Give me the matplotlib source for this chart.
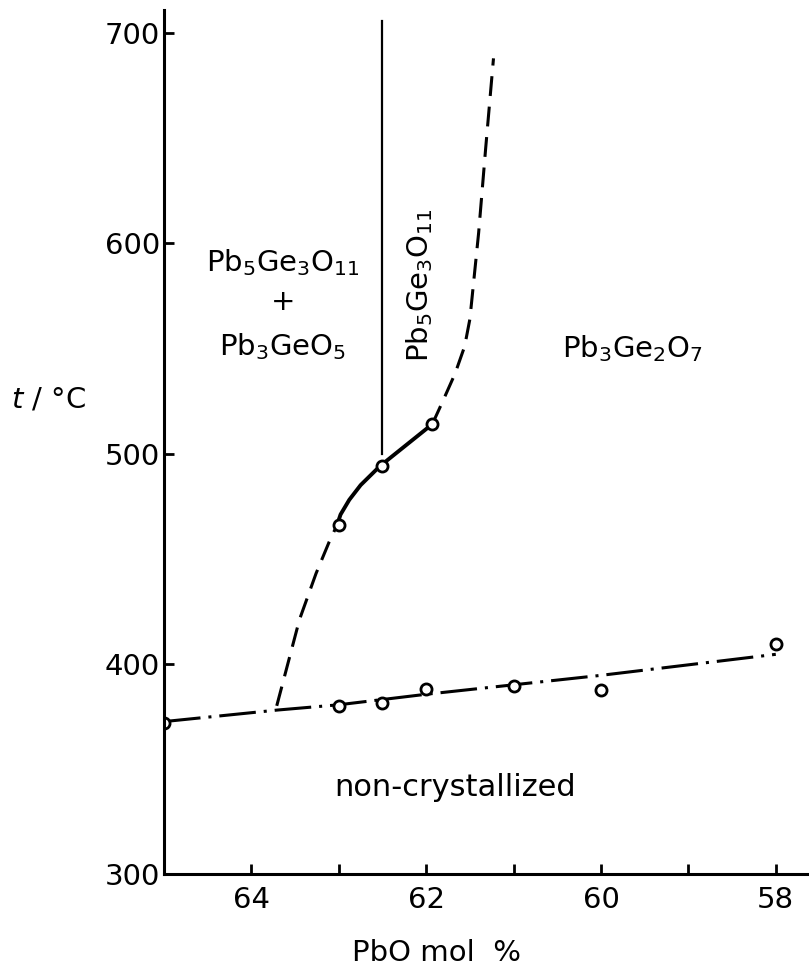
import matplotlib
matplotlib.use("Agg")
from matplotlib import pyplot as plt

# PbO mol % and crystallization temperature (deg C)
low_x = [65.0, 63.0, 62.5, 62.0, 61.0, 60.0, 58.0]
low_t = [372, 380, 381.5, 388, 389.5, 387.5, 409.5]

up_x = [63.0, 62.5, 61.93]
up_t = [466, 494, 514]

# boundary lines
glass_x = [65.0, 63.7, 63.0, 62.0, 61.0, 60.0, 58.0]
glass_t = [372.5, 378, 380.5, 385.5, 390, 394.5, 404.5]

solid_x = [63.02, 62.98, 62.88, 62.75, 62.53, 61.93]
solid_t = [466, 471, 478, 485, 494, 514]

dash_lo_x = [63.71, 63.45, 63.26, 63.11, 63.02]
dash_lo_t = [380, 421, 443, 458, 466]

dash_hi_x = [61.93, 61.82, 61.67, 61.56, 61.5, 61.4, 61.32, 61.23]
dash_hi_t = [514, 524, 538, 551, 564, 605, 645, 688]

vert_x = [62.5, 62.5]
vert_t = [500, 706]

plt.rcParams['font.family'] = 'DejaVu Sans'
plt.rcParams['mathtext.default'] = 'regular'

fig = plt.figure(figsize=(8.09, 9.75), dpi=100)
ax = fig.add_axes([164/809, 1 - 874/975, 1 - 164/809, (874 - 10)/975])

ax.plot(glass_x, glass_t, color='black', lw=2.2, ls=(0, (12, 2.6, 1, 2.6)))
ax.plot(solid_x, solid_t, color='black', lw=2.8, solid_capstyle='round')
ax.plot(dash_lo_x, dash_lo_t, color='black', lw=2.2, ls=(0, (6.5, 3.5)))
ax.plot(dash_hi_x, dash_hi_t, color='black', lw=2.2, ls=(0, (6.5, 3.5)))
ax.plot(vert_x, vert_t, color='black', lw=1.6)

ax.plot(low_x, low_t, 'o', ms=8, mfc='white', mec='black', mew=2)
ax.plot(up_x, up_t, 'o', ms=8, mfc='white', mec='black', mew=2)

ax.set_xlim(65, 57.62)
ax.set_ylim(300, 711)
ax.set_xticks([64, 62, 60, 58])
ax.set_xticks([63, 61, 59], minor=True)
ax.set_yticks([300, 400, 500, 600, 700])
ax.tick_params(axis='both', which='both', direction='in', width=2, labelsize=21)
ax.tick_params(axis='x', which='both', length=7, pad=9)
ax.tick_params(axis='y', length=7, pad=3)
for s in ['top', 'right']:
    ax.spines[s].set_visible(False)
for s in ['left', 'bottom']:
    ax.spines[s].set_linewidth(2.2)

fs = 21
ax.text(63.64, 591, 'Pb$_5$Ge$_3$O$_{11}$', ha='center', va='center', fontsize=fs)
ax.text(63.64, 572, '+', ha='center', va='center', fontsize=fs)
ax.text(63.64, 551, 'Pb$_3$GeO$_5$', ha='center', va='center', fontsize=fs)
ax.text(62.08, 580, 'Pb$_5$Ge$_3$O$_{11}$', rotation=90, ha='center', va='center', fontsize=fs)
ax.text(59.64, 550, 'Pb$_3$Ge$_2$O$_7$', ha='center', va='center', fontsize=fs)
ax.text(61.67, 341, 'non-crystallized', ha='center', va='center', fontsize=22)

fig.text(49/809, 1 - 399/975, '$\\mathit{t}$ / °C', ha='center', va='center', fontsize=fs)
fig.text(437/809, 1 - 953/975, 'PbO mol  %', ha='center', va='center', fontsize=fs)

fig.savefig('out.png', dpi=100)
